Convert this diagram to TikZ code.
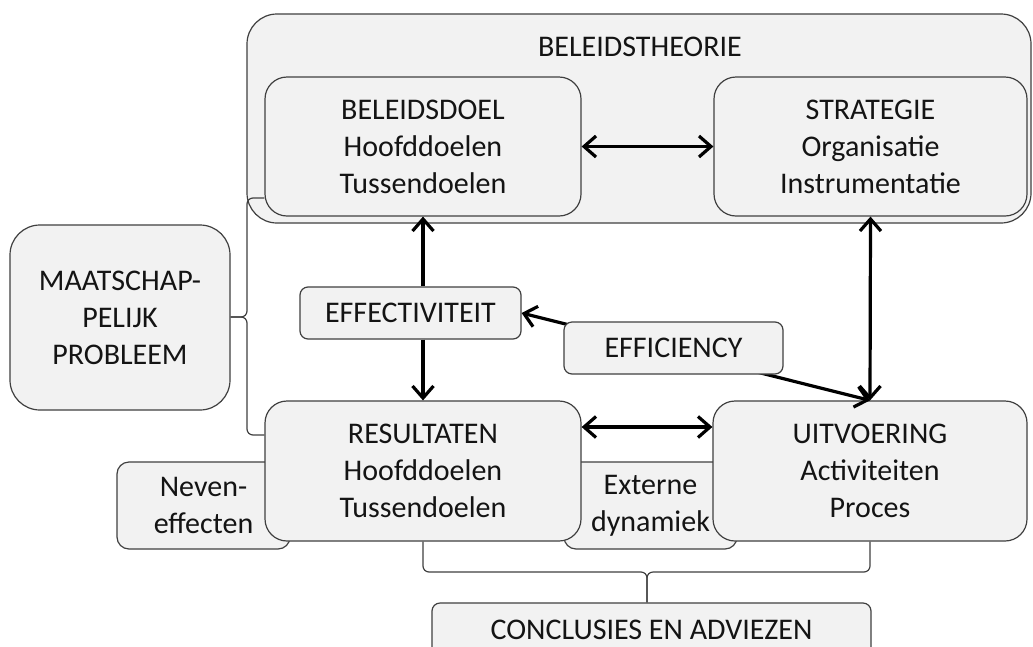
\documentclass[tikz,border=0pt]{standalone}
\usepackage{fontspec}
\setmainfont{Carlito}
\usetikzlibrary{arrows.meta,calc}
\definecolor{boxfill}{HTML}{F2F2F2}
\definecolor{boxline}{HTML}{404040}
\definecolor{txt}{HTML}{141414}
\begin{document}
\begin{tikzpicture}[x=1pt,y=-1pt,
  box/.style={draw=boxline, fill=boxfill, line width=1.2pt, rounded corners=#1,
    text=txt, align=center, inner sep=0pt, font=\fontsize{30}{37}\selectfont},
  box/.default=22pt,
  lbl/.style={text=txt, inner sep=0pt, font=\fontsize{30}{37}\selectfont},
  bline/.style={draw=boxline, line width=1.2pt, rounded corners=6pt},
  arr/.style={draw=black, line width=3.2pt},
  >={Straight Barb[length=12pt,width=21pt]}
]
\path[use as bounding box, fill=white] (0,0) rectangle (1033,646);

% big theory box
\node[box=30pt, minimum width=784pt, minimum height=209pt] (theory) at (639,118.5) {};
\node[lbl] (title) at (640,47) {BELEIDSTHEORIE};

% left brace points
\coordinate (lbtop) at (247,198);
\coordinate (lbmid) at (247,317);
\coordinate (lbbot) at (247,435);

\node[box, minimum width=316pt, minimum height=139pt] (doel) at (423,146.5)
  {BELEIDSDOEL\\Hoofddoelen\\Tussendoelen};
\node[box, minimum width=313pt, minimum height=139pt] (strat) at (870.5,146.5)
  {STRATEGIE\\Organisatie\\Instrumentatie};

\node[box=30pt, minimum width=220pt, minimum height=185pt] (maat) at (120,317.5)
  {MAATSCHAP-\\PELIJK\\PROBLEEM};

\node[box=8pt, minimum width=221pt, minimum height=52pt] (effect) at (410.5,313)
  {EFFECTIVITEIT};

% side boxes behind the result boxes
\node[box=12pt, minimum width=173pt, minimum height=87pt] (neven) at (203.5,505.5)
  {Neven-\\effecten};
\node[box=12pt, minimum width=173pt, minimum height=87pt] (ext) at (650.5,505.5)
  {Externe\\dynamiek};

\node[box, minimum width=316pt, minimum height=140pt] (res) at (423,471)
  {RESULTATEN\\Hoofddoelen\\Tussendoelen};
\node[box, minimum width=314pt, minimum height=140pt] (uitv) at (870,471)
  {UITVOERING\\Activiteiten\\Proces};

% conclusions box: its lower part lies below the picture
\node[box=8pt, minimum width=439pt, minimum height=70pt] (conc) at (651.5,638) {};
\node[lbl] (conctxt) at (651.5,629.5) {CONCLUSIES EN ADVIEZEN};

% left brace
\draw[bline] (lbtop -| doel.west) -- (lbtop) -- (lbmid) -- (lbmid -| maat.east);
\draw[bline] (lbbot -| res.west) -- (lbbot) -- (lbmid) -- (lbmid -| maat.east);

% bottom brace
\coordinate (bmid) at (647,572);
\draw[bline] (res.south) |- (bmid) -- (bmid |- conc.north);
\draw[bline] (uitv.south) |- (bmid) -- (bmid |- conc.north);

% arrows
\draw[arr,<->] (doel.east) -- (strat.west);
\draw[arr,->] (doel.south |- effect.north) -- (doel.south);
\draw[arr,->] (res.north |- effect.south) -- (res.north);
\draw[arr,<->] (strat.south) -- (uitv.north);
\draw[arr,<->] ([yshift=44pt]res.east) -- ([yshift=44pt]uitv.west);
\draw[arr,<->] (effect.east) -- (uitv.north);

\node[box=8pt, minimum width=219pt, minimum height=52pt] (effic) at (673.5,348)
  {EFFICIENCY};
\end{tikzpicture}
\end{document}
